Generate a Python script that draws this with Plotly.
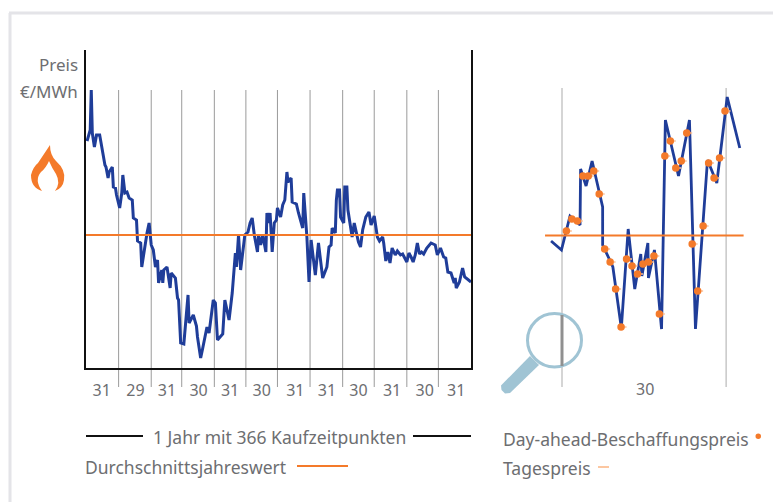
import plotly.graph_objects as go

W, H = 773, 502

year_days = [1,4,5,6,8,10,13,15,18,19,21,22,25,26,28,29,32,34,35,37,39,41,44,45,48,49,52,53,58,60,62,64,66,68,69,72,73,74,77,80,81,85,87,88,90,93,97,98,102,105,106,109,111,115,117,121,123,125,130,132,136,139,142,143,145,147,151,154,156,158,160,163,164,166,168,171,172,174,175,177,179,181,182,185,187,189,191,192,195,196,200,202,206,207,210,212,214,218,221,225,229,231,233,234,237,238,239,241,242,245,246,248,249,253,255,259,261,263,266,269,271,274,277,279,282,283,285,287,289,291,294,296,299,301,305,307,309,311,313,315,317,319,321,324,328,332,334,337,340,342,344,347,350,351,352,355,358,360,366]
year_prices = [227,238,278,235,221,233,233,221,203,201,190,196,201,181,180,173,160,175,193,175,176,170,168,150,148,127,125,101,135,145,123,118,101,108,85,98,85,98,101,80,95,90,70,68,25,24,73,45,53,42,31,10,20,41,35,68,65,28,34,68,48,75,115,101,133,98,133,136,145,150,133,116,133,123,133,116,155,145,155,116,145,148,160,151,163,168,196,186,190,166,164,155,140,175,131,86,128,93,125,90,101,121,123,140,135,168,178,178,151,145,181,181,158,131,145,126,121,138,151,156,143,152,131,127,131,125,107,116,105,120,113,117,113,114,106,115,111,106,113,125,114,116,114,120,125,123,113,120,111,110,96,95,85,90,80,86,100,91,86]
average_price = 133
grid_days = [31,62,91,122,152,182,213,244,274,305,335]
tick_days = [15,47,77,107,137,167,199,229,259,291,322,352]
tick_labels = ["31","29","31","30","31","30","31","31","30","31","30","31"]

month_hours = [-2.0,-0.1,1.46,3.3,3.4,4.4,5.5,7.43,7.43,8.9,9.3,10.85,12.1,13.3,14.4,14.6,15.7,15.8,16.9,18.2,18.9,21.3,23.3,24.4,26.6,28.3,30.2,32.5]
month_prices = [127,118,152,143,199,182,207,161,123,106,101,40,139,79,114,92,125,90,118,39,248,192,248,39,208,185,271,220]
day_index = list(range(30))
day_prices = [137,149,147,192,192,197,174,119,106,79,41,109,102,94,104,106,112,54,212,227,200,207,235,124,77,142,205,190,210,257]
day_offset = 0.8
month_tick = [15.2]
month_grid = [0, 30]

blue = "#1f3d99"
orange = "#f47a2a"
light_orange = "#fcc197"
grey = "#6d6e71"
steel = "#a0c4d4"

fx = lambda p: p / W
fy = lambda p: 1 - p / H

fig = go.Figure()
fig.add_trace(go.Scatter(x=year_days, y=year_prices, mode="lines", xaxis="x", yaxis="y",
                         line=dict(color=blue, width=3, simplify=False), showlegend=False, cliponaxis=False))
fig.add_trace(go.Scatter(x=[0, 366], y=[average_price, average_price], mode="lines", xaxis="x", yaxis="y",
                         line=dict(color=orange, width=2), showlegend=False))
fig.add_trace(go.Scatter(x=month_hours, y=month_prices, mode="lines", xaxis="x2", yaxis="y2",
                         line=dict(color=blue, width=2.8, simplify=False), showlegend=False, cliponaxis=False))
fig.add_trace(go.Scatter(x=[-3.1, 33.2], y=[average_price - 0.5, average_price - 0.5], mode="lines", xaxis="x2", yaxis="y2",
                         line=dict(color=orange, width=2), showlegend=False))
fig.add_trace(go.Scatter(x=[d + day_offset for d in day_index], y=day_prices, mode="markers", xaxis="x2", yaxis="y2",
                         marker=dict(color=orange, size=7.5),
                         error_x=dict(type="constant", symmetric=False, value=1.0, valueminus=0,
                                      color=light_orange, thickness=1.5, width=0),
                         showlegend=False, cliponaxis=False))

shapes = []
# outer frame
shapes.append(dict(type="line", xref="paper", yref="paper", x0=fx(10), x1=fx(10), y0=fy(13), y1=fy(502),
                   line=dict(color="#e4e4e8", width=3)))
shapes.append(dict(type="line", xref="paper", yref="paper", x0=fx(9), x1=fx(773), y0=fy(13), y1=fy(13),
                   line=dict(color="#e4e4e8", width=3)))
for d in grid_days:
    shapes.append(dict(type="line", xref="x", yref="paper", x0=d, x1=d, y0=fy(90), y1=fy(387),
                       line=dict(color="#9a9a9a", width=1), layer="below"))
for d in month_grid:
    shapes.append(dict(type="line", xref="x2", yref="paper", x0=d, x1=d, y0=fy(88), y1=fy(387),
                       line=dict(color="#ababab", width=1), layer="below"))
# legend rules
for a, b, yy, c, w in [(86, 143, 436, "#111111", 1.8), (413, 471, 436, "#111111", 1.8),
                       (297, 348, 466, orange, 1.8), (598, 609, 467, light_orange, 1.8)]:
    shapes.append(dict(type="line", xref="paper", yref="paper", x0=fx(a), x1=fx(b), y0=fy(yy), y1=fy(yy),
                       line=dict(color=c, width=w)))
# legend dot
shapes.append(dict(type="circle", xref="paper", yref="paper", x0=fx(755.5), x1=fx(761), y0=fy(439), y1=fy(433.5),
                   fillcolor=orange, line=dict(width=0)))


def poly(pts):
    return "M " + " L ".join(f"{fx(x):.5f},{fy(y):.5f}" for x, y in pts) + " Z"


# magnifier
shapes.append(dict(type="path", xref="paper", yref="paper",
                   path=poly([(530, 356), (539, 365), (510, 393), (505, 393.5), (501.5, 390), (501, 385.5)]),
                   fillcolor=steel, line=dict(width=0)))
shapes.append(dict(type="circle", xref="paper", yref="paper", x0=fx(527.5), x1=fx(581.5), y0=fy(313.5), y1=fy(367),
                   fillcolor="rgba(255,255,255,0)", line=dict(color=steel, width=3)))
shapes.append(dict(type="line", xref="x2", yref="paper", x0=0, x1=0, y0=fy(315), y1=fy(366),
                   line=dict(color="#909090", width=3)))
# flame
shapes.append(dict(type="path", xref="paper", yref="paper", fillcolor=orange, line=dict(width=0),
                   path=("M {} Q {} {} Q {} {} Q {} {} Q {} {} Q {} {} Q {} {} Q {} {} Q {} {} Q {} {} Z".format(*[
                       f"{fx(x):.5f},{fy(y):.5f}" for x, y in [
                           (50, 145), (50, 155), (56, 161), (66, 170), (64, 180), (63, 188), (55, 191),
                           (61, 183), (56, 174), (52, 168), (49, 161), (46, 168), (41, 172), (34, 180),
                           (42, 191), (31, 188), (31, 175), (33, 167), (38, 163)]]))))

ann = []
def text(t, x, y, anchor="left", size=17.5):
    ann.append(dict(text=t, xref="paper", yref="paper", x=fx(x), y=fy(y), xanchor=anchor, yanchor="middle",
                    showarrow=False, font=dict(size=size, color=grey, family="Noto Sans"), borderpad=0))

text("Preis", 79, 64, "right", 17)
text("€/MWh", 79, 91, "right", 17)
text("1 Jahr mit 366 Kaufzeitpunkten", 279, 437, "center")
text("Durchschnittsjahreswert", 84, 467)
text("Day-ahead-Beschaffungspreis", 501.5, 439)
text("Tagespreis", 501.5, 468)

axis_y = dict(range=[0, 318], showgrid=False, zeroline=False, showticklabels=False, ticks="")
tick_font = dict(size=16, color=grey, family="Noto Sans")
fig.update_layout(
    width=W, height=H, autosize=False,
    margin=dict(l=0, r=0, t=0, b=0),
    paper_bgcolor="white", plot_bgcolor="rgba(0,0,0,0)",
    showlegend=False, shapes=shapes, annotations=ann,
    xaxis=dict(domain=[fx(86), fx(471)], range=[0, 366], showgrid=False, zeroline=False,
               tickmode="array", tickvals=tick_days, ticktext=tick_labels,
               ticks="outside", ticklen=7, tickcolor="rgba(0,0,0,0)", tickfont=tick_font,
               showline=True, linecolor="#111111", linewidth=2, anchor="y"),
    yaxis=dict(domain=[fy(368), fy(50)], showline=True, linecolor="#111111", linewidth=2, mirror=True,
               anchor="x", **axis_y),
    xaxis2=dict(domain=[fx(545), fx(745)], range=[-3.108, 33.455], showgrid=False, zeroline=False,
                tickmode="array", tickvals=month_tick, ticktext=["30"],
                ticks="outside", ticklen=7, tickcolor="rgba(0,0,0,0)", tickfont=tick_font,
                showline=False, anchor="y2"),
    yaxis2=dict(domain=[fy(368), fy(50)], anchor="x2", showline=False, **axis_y),
)

fig.write_html("out.html", config={"displayModeBar": False},
               post_script="document.body.style.margin='0';document.documentElement.style.overflow='hidden';")
